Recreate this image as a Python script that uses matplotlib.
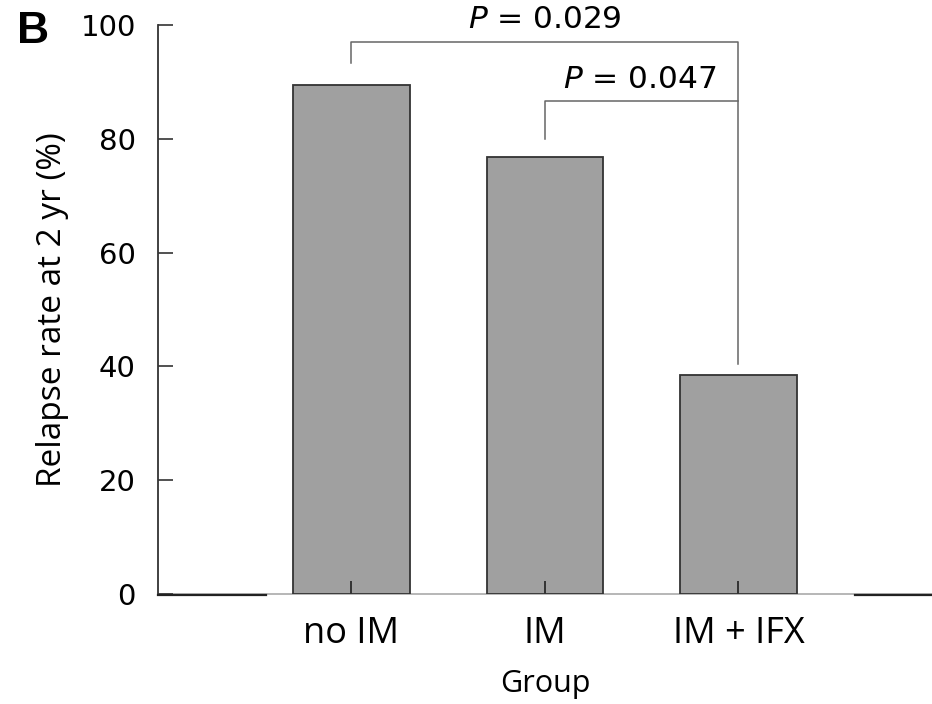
import matplotlib.pyplot as plt

# dane
grupy = ["no IM", "IM", "IM + IFX"]
nawroty = [89.5, 76.9, 38.5]
y_ticks = [0, 20, 40, 60, 80, 100]
p_teksty = ["$P$ = 0.029", "$P$ = 0.047"]

plt.rcParams['mathtext.fontset'] = 'dejavusans'

fig = plt.figure(figsize=(9.32, 7.04), dpi=100)
ax = fig.add_axes([0.1695, 0.1563, 0.8305, 0.808])

x = list(range(len(grupy)))
ax.bar(x, nawroty, width=0.6, color="#a0a0a0", edgecolor="#333333", linewidth=1.3, zorder=2)
ax.set_axisbelow(False)  # kreski osi x widoczne na slupkach

ax.set_xlim(-1, 3)
ax.set_ylim(0, 100)

for s in ["top", "right", "bottom"]:
    ax.spines[s].set_visible(False)
ax.spines["left"].set_color("#333333")
ax.spines["left"].set_linewidth(1.3)

# os x: jasna linia + ciemne odcinki na koncach
ax.axhline(0, color="#aaaaaa", lw=1.2, zorder=1, clip_on=False)
ax.plot([-1, -0.44], [-0.2, -0.2], color="#222222", lw=1.6, clip_on=False, zorder=3)
ax.plot([2.6, 3.0], [-0.2, -0.2], color="#222222", lw=1.6, clip_on=False, zorder=3)

ax.set_yticks(y_ticks)
ax.set_yticklabels([str(v) for v in y_ticks], fontsize=21, family="DejaVu Sans")
ax.tick_params(axis="y", direction="in", length=11, width=1.2, color="#333333", pad=16)

ax.set_xticks(x)
ax.set_xticklabels(grupy, fontsize=26, family="Open Sans")
ax.tick_params(axis="x", direction="in", length=9.5, width=1.4, color="#333333", pad=16)

ax.set_xlabel("Group", fontsize=22, family="Open Sans", labelpad=12)
ax.set_ylabel("Relapse rate at 2 yr (%)", fontsize=24, family="Open Sans", labelpad=8)

# nawiasy z wartosciami p
kol = "#666666"
ax.plot([0, 0, 2, 2], [93.3, 97.0, 97.0, 40.4], color=kol, lw=1.1, clip_on=False)
ax.plot([1, 1, 2], [80.0, 86.6, 86.6], color=kol, lw=1.1, clip_on=False)
ax.text(1.0, 101.0, p_teksty[0], fontsize=22.5, family="DejaVu Sans", ha="center", va="center", clip_on=False)
ax.text(1.49, 90.5, p_teksty[1], fontsize=22.5, family="DejaVu Sans", ha="center", va="center", clip_on=False)

fig.text(0.035, 0.955, "B", fontsize=32, weight="bold", family="Liberation Sans", ha="center", va="center")

fig.savefig("out.png", dpi=100)
